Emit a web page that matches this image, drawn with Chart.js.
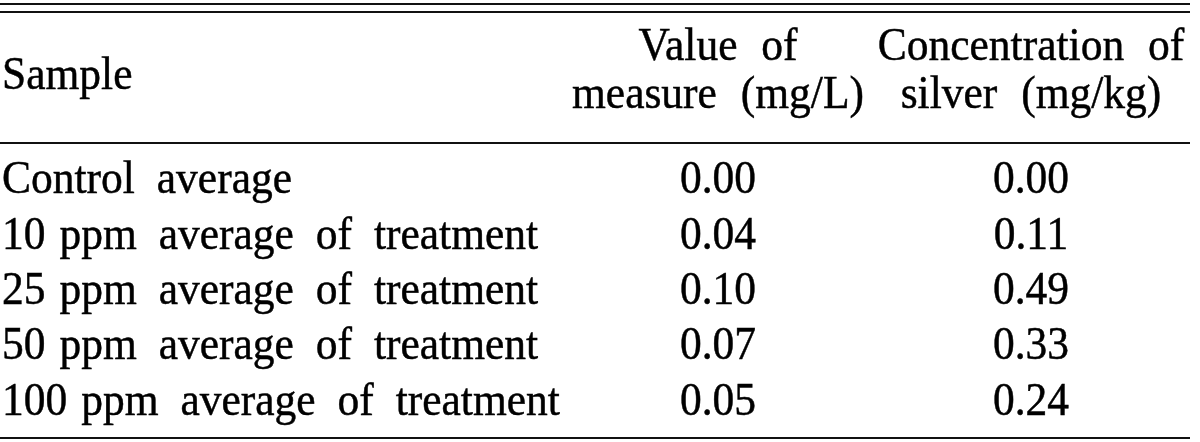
<!DOCTYPE html>
<html>
<head>
<meta charset="utf-8">
<script src="https://cdn.jsdelivr.net/npm/chart.js@4/dist/chart.umd.min.js"></script>
<style>
  html, body { margin: 0; padding: 0; background: #fff; }
  #wrap { width: 1200px; height: 442px; }
</style>
</head>
<body>
<div id="wrap"><canvas id="silverTable"></canvas></div>
<script>
// =====================================
// Table data
// =====================================
const samples = [
    "Control average",
    "10 ppm average of treatment",
    "25 ppm average of treatment",
    "50 ppm average of treatment",
    "100 ppm average of treatment"
];
const measureValues = [0.00, 0.04, 0.10, 0.07, 0.05];   // mg/L
const silverValues = [0.00, 0.11, 0.49, 0.33, 0.24];    // mg/kg
const headerSample = "Sample";
const headerMeasure = ["Value of", "measure (mg/L)"];
const headerSilver = ["Concentration of", "silver (mg/kg)"];

// layout (table units: x in px across, y in rows)
const columnX = [2, 718, 1031];
const headerRowY = [-2.395, -1.53];
const sampleHeaderY = -1.875;
const ruleY = [-3.405, -3.26, -0.9, 4.42];
const FONT = "43.5px 'Liberation Serif', 'Times New Roman', serif";

function drawText(ctx, str, x, y, align, spacing) {
    ctx.save();
    ctx.font = FONT;
    ctx.fillStyle = "#000";
    ctx.strokeStyle = "#000";
    ctx.lineWidth = 0.45;
    ctx.textAlign = align;
    ctx.textBaseline = "alphabetic";
    if ("wordSpacing" in ctx) ctx.wordSpacing = (spacing == null ? 11 : spacing) + "px";
    ctx.translate(x, y);
    ctx.scale(1, 1.07);
    ctx.fillText(str, 0, 0);
    ctx.strokeText(str, 0, 0);
    const w = ctx.measureText(str).width;
    ctx.restore();
    return w;
}

// sample labels: the "NN ppm" part is set tighter than the rest
function drawSample(ctx, str, x, y) {
    const m = str.match(/^(\d+ ppm) (.*)$/);
    if (!m) {
        drawText(ctx, str, x, y, "left");
        return;
    }
    const w = drawText(ctx, m[1], x, y, "left", 3);
    drawText(ctx, m[2], x + w + 22, y, "left");
}

const tablePlugin = {
    id: "tableText",
    afterDatasetsDraw(chart) {
        const ctx = chart.ctx;
        const xs = chart.scales.x;
        const ys = chart.scales.y;

        // rules
        ctx.save();
        ctx.strokeStyle = "#111";
        ctx.lineWidth = 2;
        ruleY.forEach(v => {
            const y = Math.round(ys.getPixelForValue(v));
            ctx.beginPath();
            ctx.moveTo(0, y);
            ctx.lineTo(1190, y);
            ctx.stroke();
        });
        ctx.restore();

        // header
        drawText(ctx, headerSample, xs.getPixelForValue(columnX[0]), ys.getPixelForValue(sampleHeaderY), "left");
        headerMeasure.forEach((t, i) =>
            drawText(ctx, t, xs.getPixelForValue(columnX[1]), ys.getPixelForValue(headerRowY[i]), "center", 13));
        headerSilver.forEach((t, i) =>
            drawText(ctx, t, xs.getPixelForValue(columnX[2]), ys.getPixelForValue(headerRowY[i]), "center", 13));

        // body cells, placed at each dataset point
        chart.data.datasets.forEach((ds, di) => {
            const meta = chart.getDatasetMeta(di);
            meta.data.forEach((pt, i) => {
                const raw = ds.data[i].label;
                if (di === 0) drawSample(ctx, raw, pt.x, pt.y);
                else drawText(ctx, raw, pt.x, pt.y, "center");
            });
        });
    }
};

new Chart(document.getElementById("silverTable"), {
    type: "scatter",
    data: {
        datasets: [
            {
                label: headerSample,
                data: samples.map((s, i) => ({ x: columnX[0], y: i, label: s }))
            },
            {
                label: headerMeasure.join(" "),
                data: measureValues.map((v, i) => ({ x: columnX[1], y: i, label: v.toFixed(2) }))
            },
            {
                label: headerSilver.join(" "),
                data: silverValues.map((v, i) => ({ x: columnX[2], y: i, label: v.toFixed(2) }))
            }
        ]
    },
    options: {
        responsive: true,
        maintainAspectRatio: false,
        animation: false,
        events: [],
        layout: { padding: 0 },
        elements: { point: { radius: 0 } },
        plugins: { legend: { display: false }, tooltip: { enabled: false } },
        scales: {
            x: { type: "linear", min: 0, max: 1200, display: false },
            y: { type: "linear", reverse: true, min: -3.4775, max: 4.4865, display: false }
        }
    },
    plugins: [tablePlugin]
});
</script>
</body>
</html>
